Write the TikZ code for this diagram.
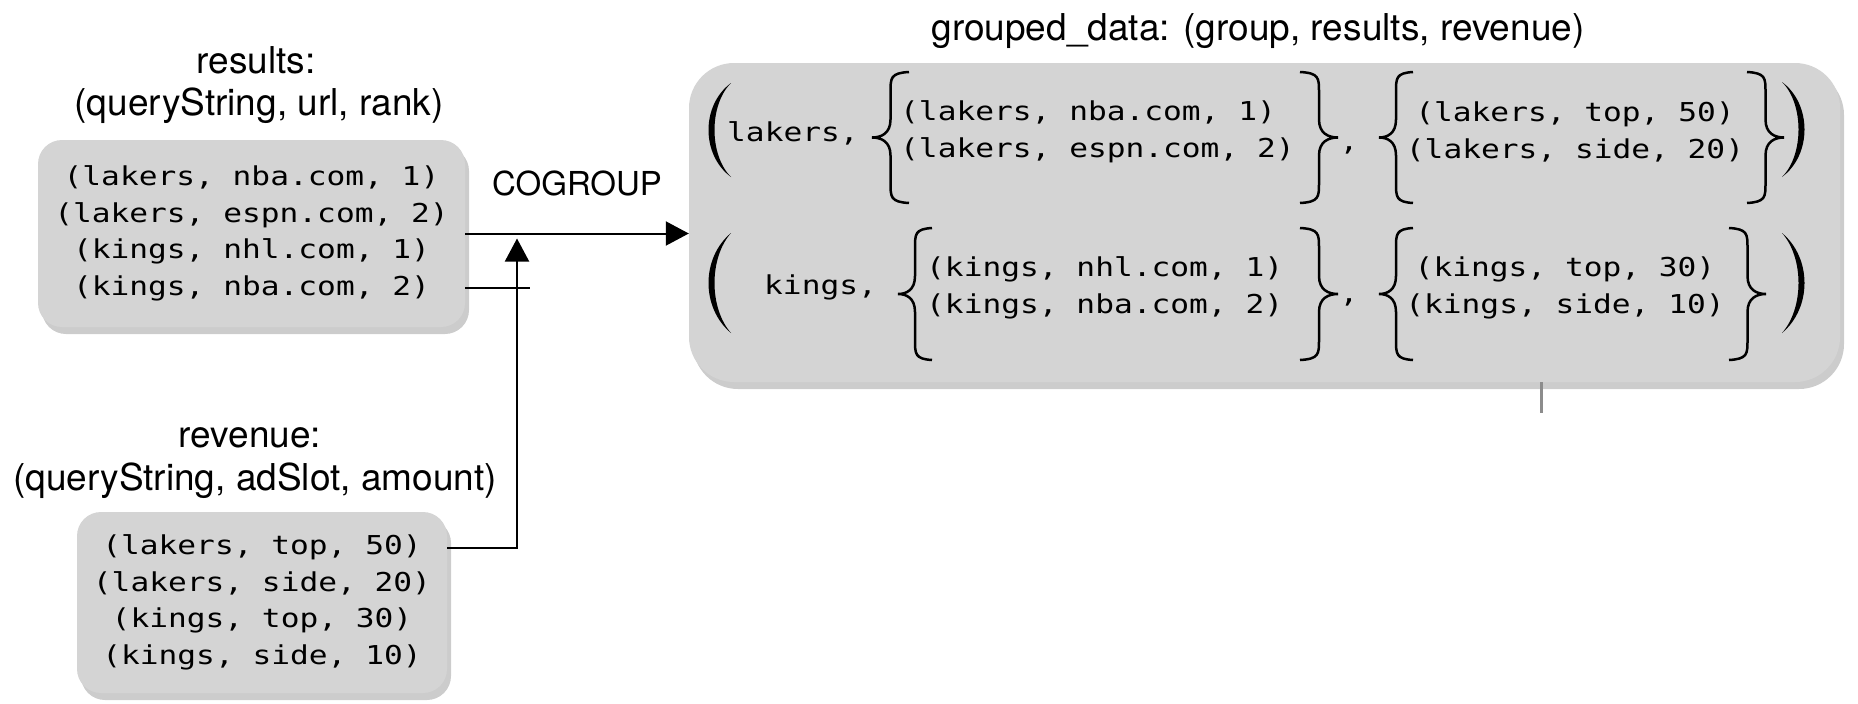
\documentclass[tikz,border=0pt]{standalone}
\usepackage{fontspec}
\setmainfont{TeX Gyre Heros}
\newfontfamily\datafont[FakeStretch=1.2]{DejaVu Sans Mono}
\usetikzlibrary{arrows.meta,shadows}
\definecolor{boxgray}{RGB}{212,212,212}

% hook x, tip x, top y, bottom y
\newcommand{\curlybrace}[4]{%
  \pgfmathsetmacro\bx{(#1+#2)/2}\pgfmathsetmacro\qx{(#1+3*#2)/4}\pgfmathsetmacro\my{(#3+#4)/2}
  \draw[line width=2.5pt] (#1,#3) .. controls (\bx,{#3+1}) and (\bx,{#3+6}) .. (\bx,{#3+20})
    -- (\bx,{\my-18}) .. controls (\bx,{\my-4}) and (\qx,\my) .. (#2,\my)
    .. controls (\qx,\my) and (\bx,{\my+4}) .. (\bx,{\my+18})
    -- (\bx,{#4-20}) .. controls (\bx,{#4-6}) and (\bx,{#4-1}) .. (#1,#4);}

\begin{document}
\begin{tikzpicture}[x=1pt,y=-1pt]
\tikzset{ box/.style={fill=boxgray, rounded corners=24pt, inner sep=0pt, align=center, font=\datafont\fontsize{26}{36.5}\selectfont, drop shadow={shadow xshift=4pt, shadow yshift=-7pt, opacity=0.25, fill=black!80}},
 title/.style={anchor=base, inner sep=0pt, font=\fontsize{37}{43}\selectfont},
 tup/.style={inner sep=0pt, font=\datafont\fontsize{26}{37}\selectfont},
 arr/.style={line width=2pt, -{Triangle[length=23pt, width=24pt]}}}
\useasboundingbox (0,0) rectangle (1858,704);

\node[title] (resultsname) at (256,73) {results:};
\node[title] (resultsfields) at (259,115) {(queryString, url, rank)};
\node[box, minimum width=427pt, minimum height=187pt] (results) at (251.5,233.5) {(lakers, nba.com, 1)\\(lakers, espn.com, 2)\\(kings, nhl.com, 1)\\(kings, nba.com, 2)};

\node[title] (revenuename) at (250,447) {revenue:};
\node[title] (revenuefields) at (255,490) {(queryString, adSlot, amount)};
\node[box, minimum width=370pt, minimum height=181pt] (revenue) at (262,602.5) {(lakers, top, 50)\\(lakers, side, 20)\\(kings, top, 30)\\(kings, side, 10)};

\node[title] (groupedname) at (1258,40) {grouped\_data: (group, results, revenue)};
\node[box, minimum width=1151pt, minimum height=319pt, rounded corners=45pt] (grouped) at (1264.5,222.5) {};

\fill (731,83) .. controls (701,105) and (701,155) .. (731,177) .. controls (709,155) and (709,105) .. (731,83) -- cycle;
\node[tup, anchor=west] (lakerskey) at (727,133) {lakers,};
\node[tup, anchor=west, align=left] (lakersres) at (900,132) {(lakers, nba.com, 1)\\(lakers, espn.com, 2)};
\node[tup, anchor=base] (lakerscomma) at (1349,150) {,};
\node[tup, align=center] (lakersrev) at (1575,132) {(lakers, top, 50)\\(lakers, side, 20)};
\fill (1782,82) .. controls (1812,104) and (1812,155) .. (1782,177) .. controls (1804,155) and (1804,104) .. (1782,82) -- cycle;
\curlybrace{909}{872}{72}{203}
\curlybrace{1300}{1338}{72}{203}
\curlybrace{1413}{1379}{72}{203}
\curlybrace{1747}{1784}{72}{203}

\fill (731,233) .. controls (701,258) and (701,308) .. (731,333) .. controls (709,308) and (709,258) .. (731,233) -- cycle;
\node[tup, anchor=west] (kingskey) at (764,287) {kings,};
\node[tup, anchor=west, align=left] (kingsres) at (926,288) {(kings, nhl.com, 1)\\(kings, nba.com, 2)};
\node[tup, anchor=base] (kingscomma) at (1349,302) {,};
\node[tup, align=center] (kingsrev) at (1565,288) {(kings, top, 30)\\(kings, side, 10)};
\fill (1782,233) .. controls (1812,258) and (1812,308) .. (1782,333) .. controls (1804,308) and (1804,258) .. (1782,233) -- cycle;
\curlybrace{932}{898}{228}{360}
\curlybrace{1300}{1338}{228}{360}
\curlybrace{1413}{1379}{228}{360}
\curlybrace{1729}{1766}{228}{360}

\node[title, font=\fontsize{33}{40}\selectfont] (cogroup) at (577,195) {COGROUP};

\coordinate (bend) at (517,548);
\coordinate (stub) at (530,288);
\coordinate (tick) at (1541,413);
\draw[arr] (results.east) -- (results.east -| grouped.west);
\draw[line width=2pt] (results.east |- stub) -- (stub);
\draw[arr, shorten >=5pt] (revenue.east |- bend) -- (bend) -- (bend |- results.east);
\draw[line width=3pt, black!45] (grouped.south -| tick) -- (tick);
\end{tikzpicture}
\end{document}
